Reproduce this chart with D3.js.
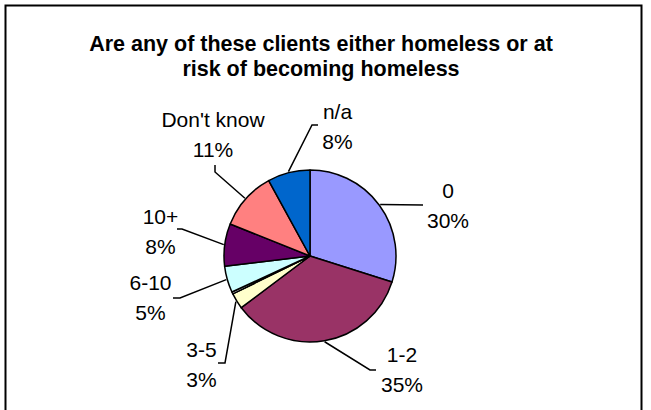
<!DOCTYPE html>
<html>
<head>
<meta charset="utf-8">
<script src="https://cdn.jsdelivr.net/npm/d3@7/dist/d3.min.js"></script>
<style>
  html, body { margin: 0; padding: 0; background: #fff; }
  svg { display: block; }
  text { font-family: "Liberation Sans", Arial, sans-serif; fill: #000; }
</style>
</head>
<body>
<script>
// Survey answers: number of clients homeless or at risk of homelessness
const categories = ["0", "1-2", "3-5", "", "6-10", "10+", "Don't know", "n/a"];
const percents   = [30, 35, 3, 0.4, 5, 8, 11, 8];
const colors     = ["#9999FF", "#993366", "#FFFFCC", "#FFFFFF", "#CCFFFF", "#660066", "#FF8080", "#0066CC"];
const titleLines = ["Are any of these clients either homeless or at", "risk of becoming homeless"];

// Label placement relative to the pie centre: label block centre, leader elbow, leader end
const labelLayout = {
  "0":          { label: [138, -50.5],  elbow: [113, -51],  end: [113, -51] },
  "1-2":        { label: [92, 113.5],   elbow: [60, 114],   end: [66, 114] },
  "3-5":        { label: [-108.5, 108.5], elbow: [-85, 107], end: [-92, 107] },
  "6-10":       { label: [-159.5, 41],  elbow: [-130, 42],  end: [-137, 42] },
  "10+":        { label: [-149.5, -24.5], elbow: [-128, -27], end: [-133, -27] },
  "Don't know": { label: [-97, -121.5], elbow: [-95, -84],  end: [-95, -91] },
  "n/a":        { label: [27.5, -129.5], elbow: [2, -131],  end: [8, -131] }
};

const W = 651, H = 410;
const cx = 310, cy = 256, R = 86;

const svg = d3.select("body").append("svg")
  .attr("width", W).attr("height", H);

// chart frame
svg.append("rect")
  .attr("x", 5.5).attr("y", 5.5)
  .attr("width", 636).attr("height", 420)
  .attr("fill", "#fff")
  .attr("stroke", "#000").attr("stroke-width", 2);

// title
const title = svg.append("text")
  .attr("text-anchor", "middle")
  .style("font-weight", "bold")
  .style("font-size", "21.5px");
titleLines.forEach((t, i) => {
  title.append("tspan").attr("x", 321).attr("y", 51 + i * 25).text(t);
});

const data = categories.map((c, i) => ({ cat: c, value: percents[i], color: colors[i] }));

const pie = d3.pie().sort(null).value(d => d.value).startAngle(0).endAngle(2 * Math.PI);
const arcs = pie(data);
const arc = d3.arc().innerRadius(0).outerRadius(R);

const g = svg.append("g").attr("transform", `translate(${cx},${cy})`);

g.selectAll("path.slice")
  .data(arcs)
  .join("path")
  .attr("class", "slice")
  .attr("d", arc)
  .attr("fill", d => d.data.color)
  .attr("stroke", "#000")
  .attr("stroke-width", 1.5)
  .attr("stroke-linejoin", "round");

// leader lines and two-line labels (the sliver with no category name is left unlabelled)
const labelled = arcs.filter(d => d.data.cat !== "");
labelled.forEach(d => {
  const lay = labelLayout[d.data.cat];
  const mid = (d.startAngle + d.endAngle) / 2;
  const start = [Math.sin(mid) * (R + 1), -Math.cos(mid) * (R + 1)];
  g.append("path")
    .attr("d", d3.line()([start, lay.elbow, lay.end]))
    .attr("fill", "none")
    .attr("stroke", "#000")
    .attr("stroke-width", 1.5);

  const t = g.append("text")
    .attr("text-anchor", "middle")
    .style("font-size", "21px");
  t.append("tspan").attr("x", lay.label[0]).attr("y", lay.label[1] - 7.5).text(d.data.cat);
  t.append("tspan").attr("x", lay.label[0]).attr("y", lay.label[1] + 22.5).text(d.data.value + "%");
});
</script>
</body>
</html>
